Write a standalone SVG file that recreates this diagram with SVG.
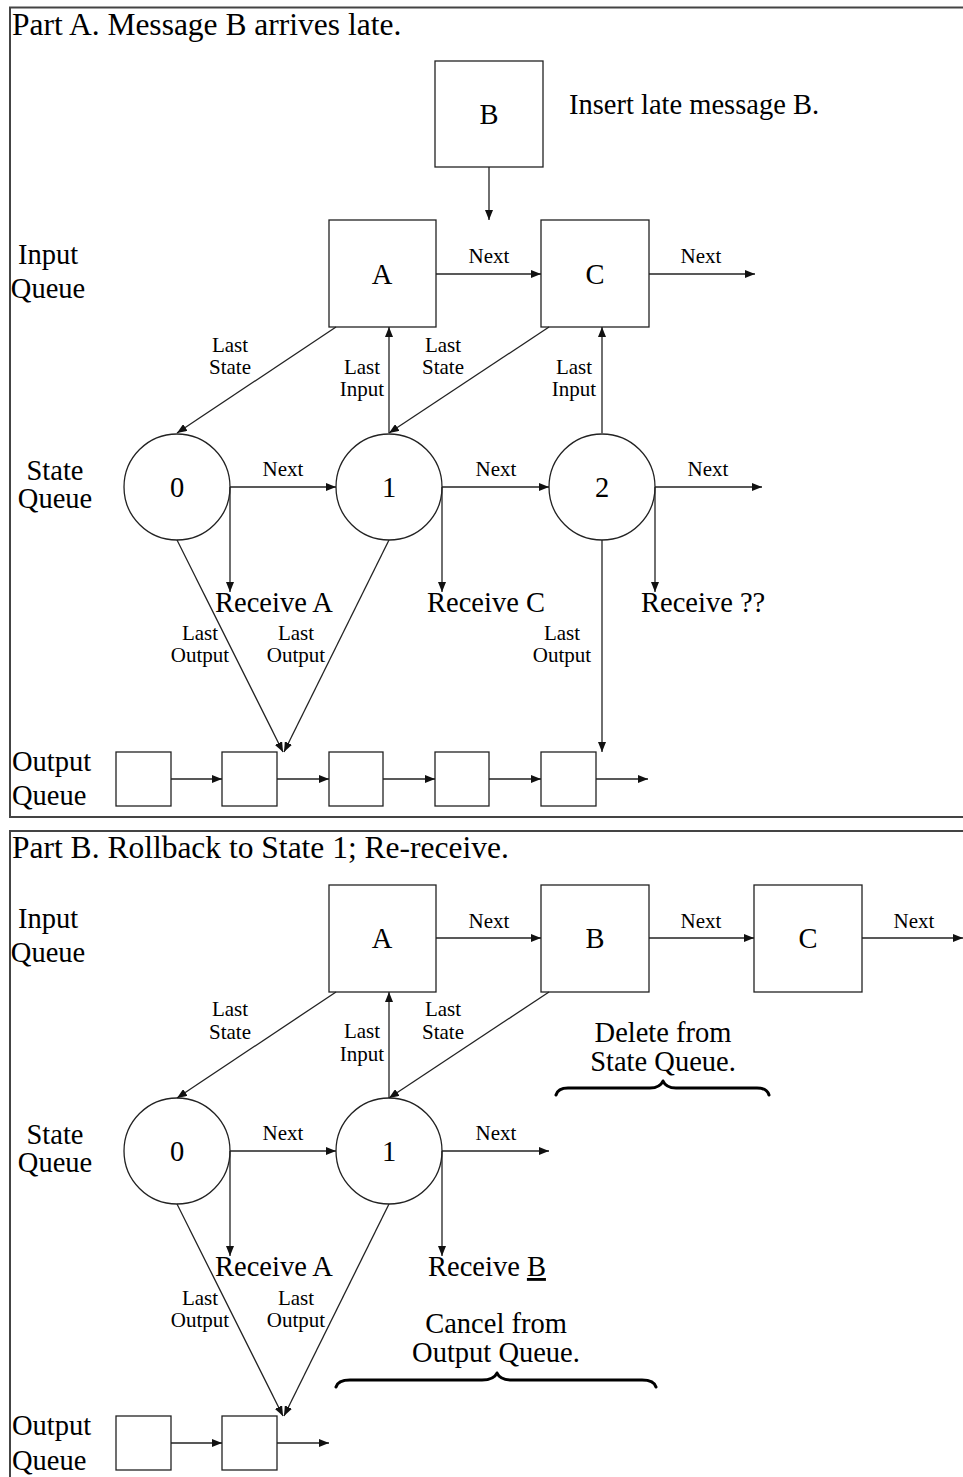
<svg xmlns="http://www.w3.org/2000/svg" width="963" height="1477" viewBox="0 0 963 1477">
<defs>
<marker id="ah" markerWidth="10" markerHeight="8" refX="10" refY="4" orient="auto" markerUnits="userSpaceOnUse"><path d="M0,0 L10,4 L0,8 z" fill="#111"/></marker>
<style>
text{font-family:"Liberation Serif","Times New Roman",serif;fill:#000}
.t{font-size:31.5px}
.L{font-size:28.5px}
.s{font-size:21px}
.m{text-anchor:middle}
.box{fill:#fff;stroke:#222;stroke-width:1.3}
.frame{fill:none;stroke:#444;stroke-width:2}
.c line,.c path{stroke:#222;stroke-width:1.3;fill:none}
.a{marker-end:url(#ah)}
.brace{fill:none;stroke:#000;stroke-width:3;stroke-linecap:round;stroke-linejoin:round}
</style>
</defs>
<rect width="963" height="1477" fill="#fff"/>
<g id="frameA"><path class="frame" d="M970,7.5 H10 V817 H970"/></g>
<g id="frameB"><path class="frame" d="M970,831 H10 V1490"/></g>

<g id="titleA"><text class="t" x="12" y="35">Part A. Message B arrives late.</text></g>
<g id="labelsA">
<text class="L m" x="48" y="264">Input</text><text class="L m" x="48" y="298">Queue</text>
<text class="L m" x="55" y="480">State</text><text class="L m" x="55" y="508">Queue</text>
<text class="L" x="12" y="771">Output</text><text class="L" x="12" y="805">Queue</text>
<text class="L" x="569" y="114">Insert late message B.</text>
</g>

<g id="A-msgB"><rect class="box" x="435" y="61" width="108" height="106"/><text class="L m" x="489" y="124">B</text></g>
<g id="A-msgA"><rect class="box" x="329" y="220" width="107" height="107"/><text class="L m" x="382" y="283.5">A</text></g>
<g id="A-msgC"><rect class="box" x="541" y="220" width="108" height="107"/><text class="L m" x="595" y="283.5">C</text></g>
<g id="A-s0"><circle class="box" cx="177" cy="487" r="53"/><text class="L m" x="177" y="497">0</text></g>
<g id="A-s1"><circle class="box" cx="389" cy="487" r="53"/><text class="L m" x="389" y="497">1</text></g>
<g id="A-s2"><circle class="box" cx="602" cy="487" r="53"/><text class="L m" x="602" y="497">2</text></g>
<g id="A-o1"><rect class="box" x="116" y="752" width="55" height="54"/></g>
<g id="A-o2"><rect class="box" x="222" y="752" width="55" height="54"/></g>
<g id="A-o3"><rect class="box" x="329" y="752" width="54" height="54"/></g>
<g id="A-o4"><rect class="box" x="435" y="752" width="54" height="54"/></g>
<g id="A-o5"><rect class="box" x="541" y="752" width="55" height="54"/></g>

<g id="connectorsA" class="c">
<path class="a" d="M489,167 V220"/>
<path class="a" d="M436,274 H541"/>
<path class="a" d="M649,274 H755"/>
<path class="a" d="M336,327 L177,433"/>
<path class="a" d="M549,327 L389,433"/>
<path class="a" d="M389,433 V327"/>
<path class="a" d="M602,433 V327"/>
<path class="a" d="M230,487 H336"/>
<path class="a" d="M442,487 H549"/>
<path class="a" d="M655,487 H762"/>
<path class="a" d="M230,487 V592"/>
<path class="a" d="M442,487 V592"/>
<path class="a" d="M655,487 V592"/>
<path class="a" d="M177,540 L283,752"/>
<path class="a" d="M389,540 L284,752"/>
<path class="a" d="M602,540 V752"/>
<path class="a" d="M171,779 H222"/>
<path class="a" d="M277,779 H329"/>
<path class="a" d="M383,779 H435"/>
<path class="a" d="M489,779 H541"/>
<path class="a" d="M596,779 H648"/>
</g>
<g id="connectorLabelsA">
<text class="s m" x="489" y="263">Next</text>
<text class="s m" x="701" y="263">Next</text>
<text class="s m" x="230" y="352">Last</text><text class="s m" x="230" y="374">State</text>
<text class="s m" x="443" y="352">Last</text><text class="s m" x="443" y="374">State</text>
<text class="s m" x="362" y="374">Last</text><text class="s m" x="362" y="396">Input</text>
<text class="s m" x="574" y="374">Last</text><text class="s m" x="574" y="396">Input</text>
<text class="s m" x="283" y="476">Next</text>
<text class="s m" x="496" y="476">Next</text>
<text class="s m" x="708" y="476">Next</text>
<text class="L" x="215" y="612">Receive A</text>
<text class="L" x="427" y="612">Receive C</text>
<text class="L" x="641" y="612">Receive ??</text>
<text class="s m" x="200" y="640">Last</text><text class="s m" x="200" y="662">Output</text>
<text class="s m" x="296" y="640">Last</text><text class="s m" x="296" y="662">Output</text>
<text class="s m" x="562" y="640">Last</text><text class="s m" x="562" y="662">Output</text>
</g>

<g id="titleB"><text class="t" x="12" y="858">Part B. Rollback to State 1; Re-receive.</text></g>
<g id="labelsB">
<text class="L m" x="48" y="928">Input</text><text class="L m" x="48" y="962">Queue</text>
<text class="L m" x="55" y="1144">State</text><text class="L m" x="55" y="1172">Queue</text>
<text class="L" x="12" y="1435">Output</text><text class="L" x="12" y="1470">Queue</text>
<text class="L m" x="663" y="1042">Delete from</text><text class="L m" x="663" y="1071">State Queue.</text>
<text class="L m" x="496" y="1333">Cancel from</text><text class="L m" x="496" y="1362">Output Queue.</text>
<path class="brace" d="M556,1095 Q558,1088 568,1088 H650 Q660,1088 663,1081 Q666,1088 676,1088 H757 Q767,1088 769,1095"/>
<path class="brace" d="M336,1387 Q338,1380 350,1380 H482 Q494,1380 497,1373 Q500,1380 512,1380 H642 Q654,1380 656,1387"/>
</g>

<g id="B-msgA"><rect class="box" x="329" y="885" width="107" height="107"/><text class="L m" x="382" y="948">A</text></g>
<g id="B-msgB"><rect class="box" x="541" y="885" width="108" height="107"/><text class="L m" x="595" y="948">B</text></g>
<g id="B-msgC"><rect class="box" x="754" y="885" width="108" height="107"/><text class="L m" x="808" y="948">C</text></g>
<g id="B-s0"><circle class="box" cx="177" cy="1151" r="53"/><text class="L m" x="177" y="1161">0</text></g>
<g id="B-s1"><circle class="box" cx="389" cy="1151" r="53"/><text class="L m" x="389" y="1161">1</text></g>
<g id="B-o1"><rect class="box" x="116" y="1416" width="55" height="54"/></g>
<g id="B-o2"><rect class="box" x="222" y="1416" width="55" height="54"/></g>

<g id="connectorsB" class="c">
<path class="a" d="M436,938 H541"/>
<path class="a" d="M649,938 H754"/>
<path class="a" d="M862,938 H963"/>
<path class="a" d="M336,992 L177,1098"/>
<path class="a" d="M549,992 L389,1098"/>
<path class="a" d="M389,1098 V992"/>
<path class="a" d="M230,1151 H336"/>
<path class="a" d="M442,1151 H549"/>
<path class="a" d="M230,1151 V1256"/>
<path class="a" d="M442,1151 V1256"/>
<path class="a" d="M177,1204 L283,1416"/>
<path class="a" d="M389,1204 L284,1416"/>
<path class="a" d="M171,1443 H222"/>
<path class="a" d="M277,1443 H329"/>
</g>
<g id="connectorLabelsB">
<text class="s m" x="489" y="928">Next</text>
<text class="s m" x="701" y="928">Next</text>
<text class="s m" x="914" y="928">Next</text>
<text class="s m" x="230" y="1016">Last</text><text class="s m" x="230" y="1039">State</text>
<text class="s m" x="443" y="1016">Last</text><text class="s m" x="443" y="1039">State</text>
<text class="s m" x="362" y="1038">Last</text><text class="s m" x="362" y="1061">Input</text>
<text class="s m" x="283" y="1140">Next</text>
<text class="s m" x="496" y="1140">Next</text>
<text class="L" x="215" y="1276">Receive A</text>
<text class="L" x="428" y="1276">Receive <tspan text-decoration="underline">B</tspan></text>
<text class="s m" x="200" y="1305">Last</text><text class="s m" x="200" y="1327">Output</text>
<text class="s m" x="296" y="1305">Last</text><text class="s m" x="296" y="1327">Output</text>
</g>
</svg>
